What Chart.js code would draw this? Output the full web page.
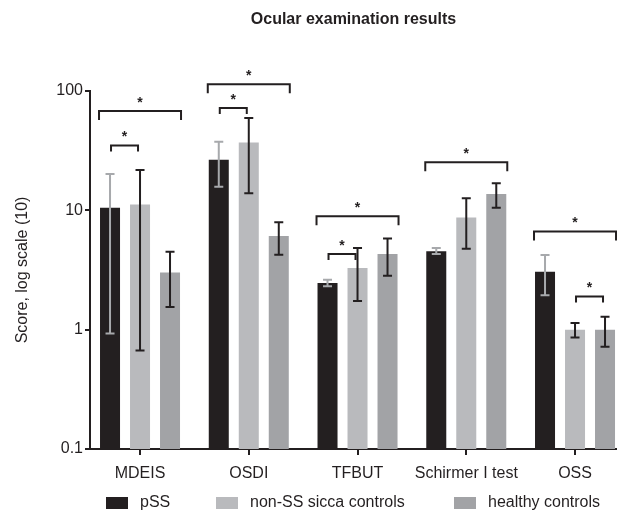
<!DOCTYPE html>
<html>
<head>
<meta charset="utf-8">
<title>Ocular examination results</title>
<script src="https://cdn.jsdelivr.net/npm/chart.js@4.4.1/dist/chart.umd.min.js"></script>
<style>
  html, body { margin: 0; padding: 0; background: #ffffff; overflow: hidden; }
  #wrap { position: relative; width: 617px; height: 511px; }
</style>
</head>
<body>
<div id="wrap"><canvas id="chart" width="617" height="511"></canvas></div>
<script>
// Ocular tests, one group of three bars per test
const categories = ['MDEIS', 'OSDI', 'TFBUT', 'Schirmer I test', 'OSS'];
const seriesNames = ['pSS', 'non-SS sicca controls', 'healthy controls'];

// bar heights (score) and whisker limits per group
const pssMean     = [10.5, 26.5, 2.46, 4.53, 3.06];
const pssLow      = [0.93, 15.8, 2.31, 4.31, 1.94];
const pssHigh     = [20.2, 37.5, 2.62, 4.83, 4.22];

const siccaMean   = [11.2, 37.0, 3.29, 8.7, 1.0];
const siccaLow    = [0.67, 13.9, 1.74, 4.77, 0.86];
const siccaHigh   = [21.8, 59.5, 4.83, 12.6, 1.14];

const healthyMean = [3.02, 6.1, 4.31, 13.7, 1.0];
const healthyLow  = [1.55, 4.24, 2.83, 10.5, 0.72];
const healthyHigh = [4.5, 7.96, 5.82, 16.9, 1.28];

// log axis ticks
const yTicks = [0.1, 1, 10, 100];
const yTickLabels = ['0.1', '1', '10', '100'];

// significance brackets: [test index, first group, last group] and bracket height (score)
const sigPairs  = [[0, 0, 2], [0, 0, 1], [1, 0, 2], [1, 0, 1], [2, 0, 2], [2, 0, 1], [3, 0, 2], [4, 0, 2], [4, 1, 2]];
const sigLevels = [68, 35, 114, 72, 8.9, 4.3, 25.3, 6.66, 1.9];
const sigMark = '*';

const INK = '#231f20';
const FONT = "'Liberation Sans', Arial, Helvetica, sans-serif";
const barColors = ['#231f20', '#b9babd', '#a2a3a6'];
const whiskerColors = ['#a7a9ac', INK, INK];

const seriesMeans = [pssMean, siccaMean, healthyMean];
const seriesLows = [pssLow, siccaLow, healthyLow];
const seriesHighs = [pssHigh, siccaHigh, healthyHigh];

Chart.defaults.font.family = FONT;
Chart.defaults.color = INK;

// whiskers drawn on top of the bars
const whiskerPlugin = {
  id: 'whiskers',
  afterDatasetsDraw(chart) {
    const { ctx } = chart;
    const y = chart.scales.y;
    ctx.save();
    ctx.lineWidth = 2;
    ctx.lineCap = 'butt';
    chart.data.datasets.forEach((ds, s) => {
      const meta = chart.getDatasetMeta(s);
      ctx.strokeStyle = ds.whiskerColor;
      meta.data.forEach((bar, i) => {
        const top = y.getPixelForValue(ds.high[i]);
        const bot = y.getPixelForValue(ds.low[i]);
        const cap = 4.5;
        ctx.beginPath();
        ctx.moveTo(bar.x, top);
        ctx.lineTo(bar.x, bot);
        ctx.moveTo(bar.x - cap, top);
        ctx.lineTo(bar.x + cap, top);
        ctx.moveTo(bar.x - cap, bot);
        ctx.lineTo(bar.x + cap, bot);
        ctx.stroke();
      });
    });
    ctx.restore();
  }
};

// significance brackets with asterisks (may rise above the plot top)
const bracketPlugin = {
  id: 'brackets',
  afterDraw(chart) {
    const { ctx } = chart;
    const y = chart.scales.y;
    ctx.save();
    ctx.strokeStyle = INK;
    ctx.fillStyle = INK;
    ctx.lineWidth = 2;
    ctx.lineJoin = 'miter';
    ctx.font = 'bold 14px ' + FONT;
    ctx.textAlign = 'center';
    ctx.textBaseline = 'alphabetic';
    const m = ctx.measureText(sigMark);
    const glyphMid = (m.actualBoundingBoxDescent - m.actualBoundingBoxAscent) / 2;
    sigPairs.forEach(([cat, a, b], k) => {
      const barA = chart.getDatasetMeta(a).data[cat];
      const barB = chart.getDatasetMeta(b).data[cat];
      const wide = (b - a) > 1;
      const x1 = wide ? barA.x - barA.width / 2 - 1 : barA.x + 1;
      const x2 = wide ? barB.x + barB.width / 2 + 1 : barB.x - 2;
      const yy = y.getPixelForValue(sigLevels[k]);
      const leg = wide ? 9 : 6;
      ctx.beginPath();
      ctx.moveTo(x1, yy + leg);
      ctx.lineTo(x1, yy);
      ctx.lineTo(x2, yy);
      ctx.lineTo(x2, yy + leg);
      ctx.stroke();
      ctx.fillText(sigMark, (x1 + x2) / 2, yy - 11 - glyphMid);
    });
    ctx.restore();
  }
};

// legend row under the axis labels
const legendRowPlugin = {
  id: 'legendRow',
  afterDraw(chart) {
    const { ctx } = chart;
    const starts = [106, 216, 454];
    const cy = 503;
    ctx.save();
    ctx.font = '16px ' + FONT;
    ctx.textAlign = 'left';
    ctx.textBaseline = 'middle';
    chart.data.datasets.forEach((ds, s) => {
      const x = starts[s];
      ctx.fillStyle = ds.backgroundColor;
      ctx.fillRect(x, cy - 6, 22, 12);
      ctx.fillStyle = INK;
      ctx.fillText(ds.label, x + 34, cy);
    });
    ctx.restore();
  }
};

new Chart(document.getElementById('chart'), {
  type: 'bar',
  data: {
    datasets: seriesNames.map((name, s) => ({
      label: name,
      data: categories.map((_, i) => ({ x: i, y: seriesMeans[s][i] })),
      low: seriesLows[s],
      high: seriesHighs[s],
      whiskerColor: whiskerColors[s],
      backgroundColor: barColors[s],
      borderWidth: 0,
      barPercentage: 0.667,
      categoryPercentage: 0.8276
    }))
  },
  options: {
    responsive: false,
    animation: false,
    devicePixelRatio: 1,
    layout: { padding: { left: 0, right: 0, top: 0, bottom: 22 } },
    plugins: {
      legend: { display: false },
      tooltip: { enabled: false },
      title: {
        display: true,
        text: 'Ocular examination results',
        fullSize: false,
        color: INK,
        font: { size: 16, weight: 'bold', family: FONT },
        padding: { top: 10, bottom: 61.8 }
      }
    },
    scales: {
      x: {
        type: 'linear',
        min: -0.46,
        max: 4.386,
        offset: false,
        afterBuildTicks: (s) => { s.ticks = categories.map((_, i) => ({ value: i })); },
        afterFit: (s) => { s.height = 40; },
        ticks: {
          callback: (v) => categories[v],
          font: { size: 16, family: FONT },
          color: INK,
          padding: 9,
          maxRotation: 0,
          autoSkip: false
        },
        grid: {
          offset: false,
          drawOnChartArea: false,
          drawTicks: true,
          tickLength: 6,
          tickWidth: 2,
          tickColor: INK,
          color: INK,
          lineWidth: 2
        },
        border: { display: true, color: INK, width: 2 }
      },
      y: {
        type: 'logarithmic',
        min: 0.1,
        max: 100,
        afterBuildTicks: (s) => { s.ticks = yTicks.map((v) => ({ value: v })); },
        afterFit: (s) => { s.width = 90; },
        ticks: {
          callback: (v, i) => yTickLabels[i],
          font: { size: 16, family: FONT },
          color: INK,
          padding: 2,
          autoSkip: false
        },
        grid: {
          drawOnChartArea: false,
          drawTicks: true,
          tickLength: 5,
          tickWidth: 2,
          tickColor: INK,
          color: INK,
          lineWidth: 2
        },
        border: { display: true, color: INK, width: 2 },
        title: {
          display: true,
          text: 'Score, log scale (10)',
          color: INK,
          font: { size: 16, family: FONT },
          padding: { top: 13, bottom: 0 }
        }
      }
    }
  },
  plugins: [whiskerPlugin, bracketPlugin, legendRowPlugin]
});
</script>
</body>
</html>
